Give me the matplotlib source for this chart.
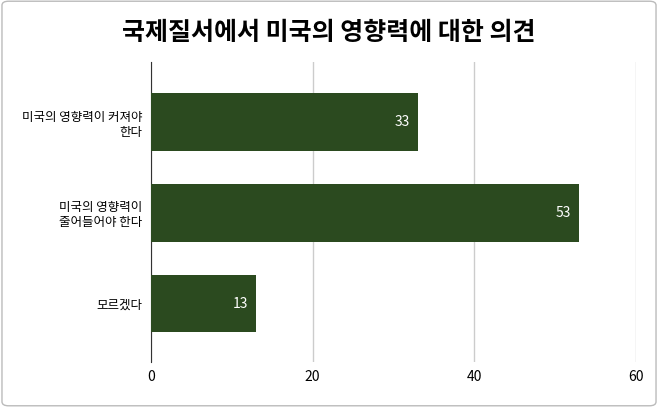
import matplotlib
matplotlib.use("Agg")
import matplotlib.pyplot as plt
from matplotlib.patches import FancyBboxPatch

plt.rcParams['font.family'] = ['Noto Sans CJK KR', 'DejaVu Sans']

categories = ["미국의 영향력이 커져야\n한다", "미국의 영향력이\n줄어들어야 한다", "모르겠다"]
values = [33, 53, 13]
ticks = [0, 20, 40, 60]

fig = plt.figure(figsize=(6.58, 4.07), dpi=100)
fig.patches.append(FancyBboxPatch((0.003, 0.003), 0.994, 0.994, boxstyle="round,pad=0,rounding_size=0.01",
                                  transform=fig.transFigure, fill=False, edgecolor="#bbbbbb", linewidth=1))
ax = fig.add_axes([151/658, 1-362/407, (636-151)/658, (362-62)/407])
y = list(range(len(categories)))
ax.barh(y, values, height=0.63, color="#2b4a1f", zorder=3)
for yi, v in zip(y, values):
    ax.text(v - 1, yi, str(v), color="white", ha="right", va="center", fontsize=10, zorder=4)
ax.set_ylim(2.64, -0.66)
ax.set_xlim(0, 60)
ax.set_xticks(ticks)
ax.set_yticks(y)
ax.set_yticklabels(categories, fontsize=9)
ax.tick_params(length=0, labelsize=10, pad=6)
ax.tick_params(axis='y', labelsize=9, pad=6)
ax.grid(axis='x', color="#cccccc", linewidth=1, zorder=0)
for s in ["top", "right", "bottom"]:
    ax.spines[s].set_visible(False)
ax.spines["left"].set_color("#333333")
fig.text(0.5, 1-33/407, "국제질서에서 미국의 영향력에 대한 의견", ha="center", va="center",
         fontsize=18, fontweight="bold")
fig.savefig("out.png", dpi=100)
